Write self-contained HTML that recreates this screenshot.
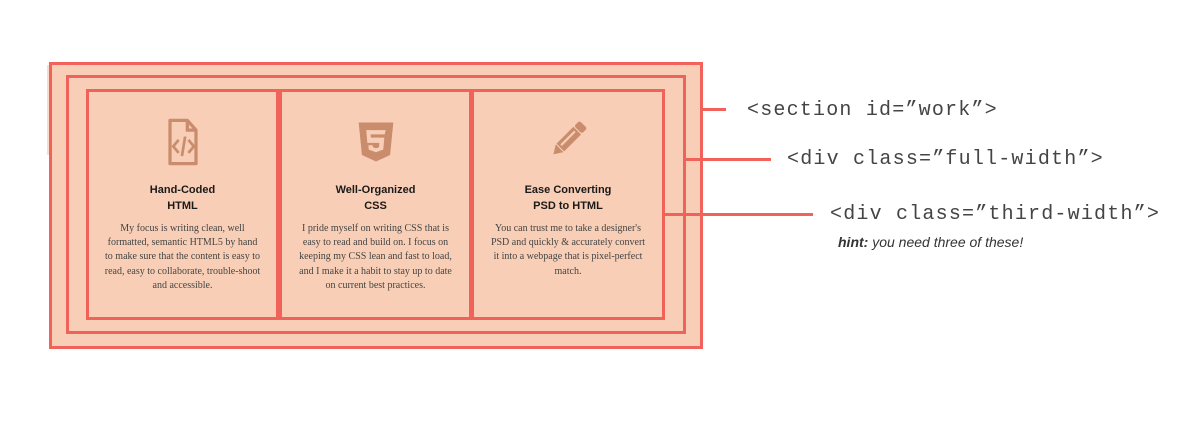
<!DOCTYPE html>
<html><head><meta charset="utf-8"><style>
body{margin:0;width:1200px;height:425px;background:#fff;position:relative;overflow:hidden;font-family:"Liberation Sans",sans-serif}
.b{position:absolute;border:3px solid #f1635a;box-sizing:border-box}
.l{position:absolute;height:3px;background:#f1635a}
.card{position:absolute;top:89px;height:231px;border:3px solid #f1635a;box-sizing:border-box;text-align:center;background:#f8cfb6}
.card h3{position:absolute;top:90px;left:0;right:0;margin:0;font-size:11px;line-height:16px;font-weight:bold;color:#1a1a1a}
.card p{position:absolute;top:130px;left:14px;right:14px;margin:0;font-family:"Liberation Serif",serif;font-size:10px;line-height:14.2px;color:#444}
.card svg{position:absolute;top:24px;left:50%;margin-left:-24px}
.m{position:absolute;font-family:"Liberation Mono",monospace;font-size:20px;letter-spacing:1.2px;color:#444;white-space:nowrap}
</style></head><body>
<div style="position:absolute;left:47px;top:65px;width:4px;height:90px;background:#f8dccc"></div>
<div class="b" style="left:49px;top:62px;width:654px;height:287px;background:#f8cfb6"></div>
<div class="b" style="left:66px;top:75px;width:620px;height:259px"></div>
<div class="card" style="left:86px;width:193px">
<svg width="48" height="52" viewBox="0 0 44 48"><path d="M10 4h16l8 9v31H10z" fill="none" stroke="#c98c6c" stroke-width="3" stroke-linejoin="round"/><path d="M26 4v9h8" fill="none" stroke="#c98c6c" stroke-width="3"/><path d="M18 22l-5 6 5 6M27 22l5 6-5 6M24 19l-3 18" fill="none" stroke="#c98c6c" stroke-width="2.5"/></svg>
<h3>Hand-Coded<br>HTML</h3>
<p>My focus is writing clean, well formatted, semantic HTML5 by hand to make sure that the content is easy to read, easy to collaborate, trouble-shoot and accessible.</p></div>
<div class="card" style="left:279px;width:193px">
<svg width="48" height="52" viewBox="0 0 44 48"><path d="M6 6h32l-3 30-13 6-13-6z" fill="#c98c6c"/><path d="M13 13h18l-1 4H17l.3 3h12.4l-1 11-6.7 2.5-6.7-2.5-.3-4h4l.2 1.8 2.8 1 2.8-1 .3-4H14z" fill="#f8cfb6"/></svg>
<h3>Well-Organized<br>CSS</h3>
<p>I pride myself on writing CSS that is easy to read and build on. I focus on keeping my CSS lean and fast to load, and I make it a habit to stay up to date on current best practices.</p></div>
<div class="card" style="left:471px;width:194px">
<svg width="48" height="52" viewBox="0 0 44 48"><g transform="rotate(45 22 22)"><rect x="17" y="2" width="10" height="7" rx="2" fill="#c98c6c"/><rect x="17" y="10" width="10" height="22" fill="#c98c6c"/><path d="M17 33h10l-5 8z" fill="#c98c6c"/><rect x="20" y="12" width="2" height="18" fill="#f8cfb6"/></g></svg>
<h3>Ease Converting<br>PSD to HTML</h3>
<p>You can trust me to take a designer's PSD and quickly &amp; accurately convert it into a webpage that is pixel-perfect match.</p></div>
<div class="l" style="left:700px;top:108px;width:26px"></div>
<div class="l" style="left:684px;top:158px;width:87px"></div>
<div class="l" style="left:664px;top:213px;width:149px"></div>
<div class="m" style="left:747px;top:99px">&lt;section id=”work”&gt;</div>
<div class="m" style="left:787px;top:148px">&lt;div class=”full-width”&gt;</div>
<div class="m" style="left:830px;top:203px">&lt;div class=”third-width”&gt;</div>
<div style="position:absolute;left:838px;top:234px;font-size:14px;font-style:italic;color:#333"><b>hint:</b> you need three of these!</div>
</body></html>
